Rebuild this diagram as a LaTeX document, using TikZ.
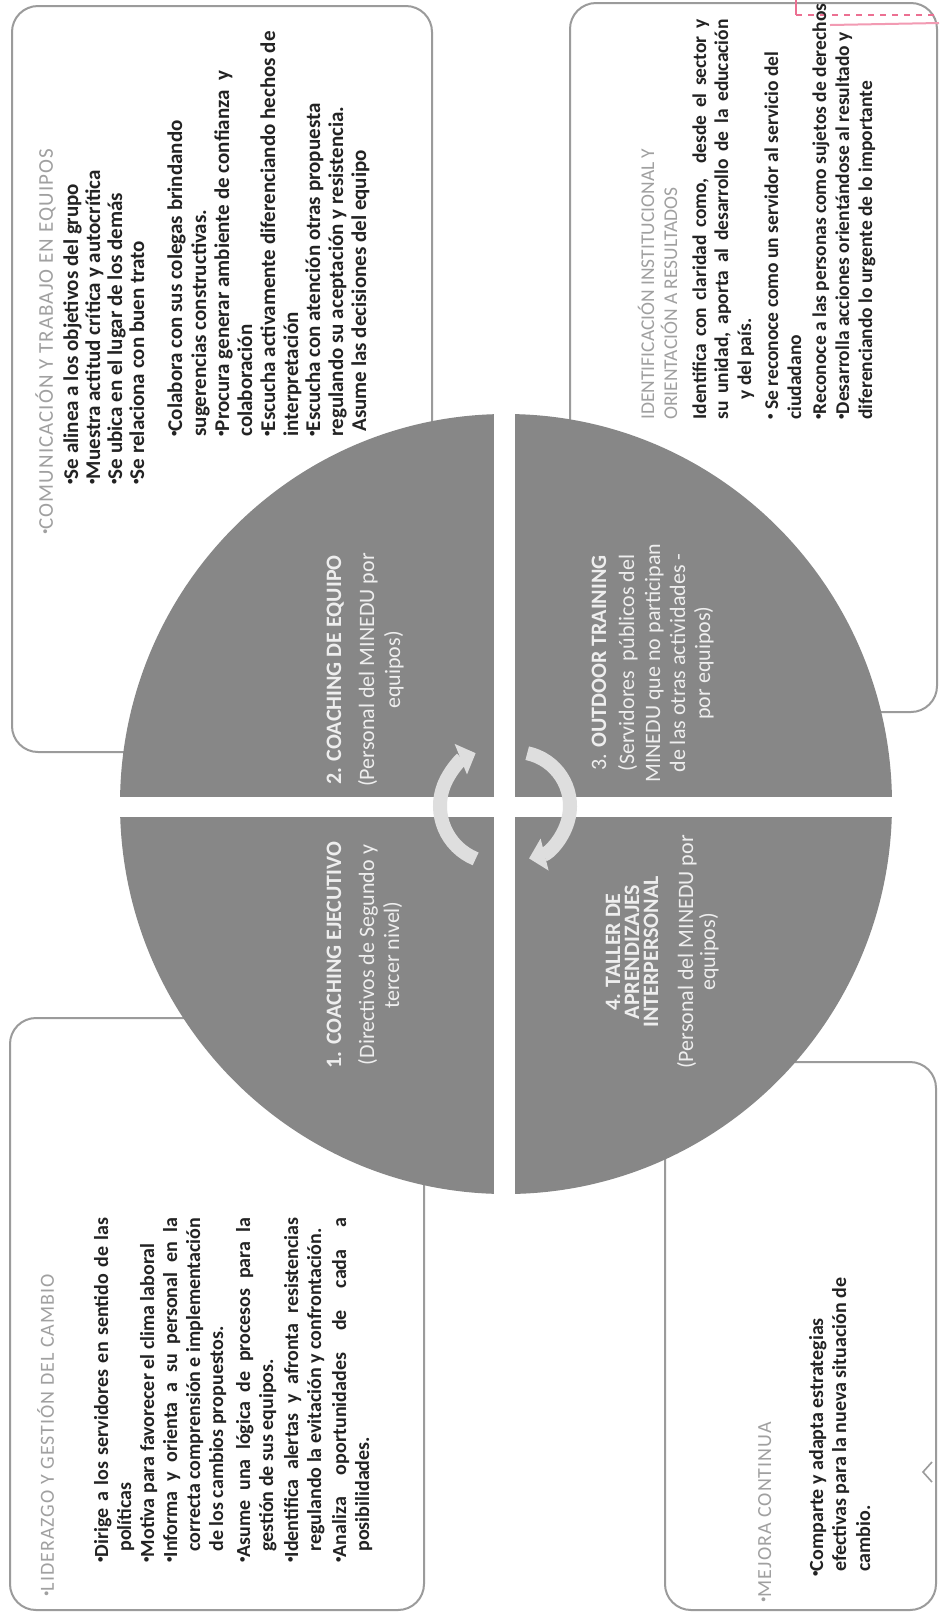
\documentclass[tikz,border=0pt]{standalone}
\usepackage{fontspec}
\setmainfont{Carlito}
\newfontfamily\hdfont[LetterSpace=5]{Carlito}
\newfontfamily\hdplain{Carlito}
\usetikzlibrary{arrows.meta}
\definecolor{boxline}{RGB}{155,155,155}
\definecolor{headgray}{RGB}{160,160,160}
\definecolor{bodytext}{RGB}{35,35,35}
\definecolor{disc}{RGB}{135,135,135}
\definecolor{disctext}{RGB}{238,238,238}
\definecolor{arrowfill}{RGB}{222,222,222}
\definecolor{pinkmark}{RGB}{236,112,146}
\newcommand\Ln[5]{\node[#1] (#2) at (#3,-#4) {#5};}
\newcommand\J[2]{\makebox[#1][s]{#2}}
\newcommand\bu{\raisebox{0.22em}{\fontsize{5.5}{6}\selectfont •}}
\begin{document}
\begin{tikzpicture}[x=0.5pt,y=0.5pt,
  frame/.style={draw=boxline,line width=1pt,rounded corners=13pt},
  txtbase/.style={rotate=90,anchor=base west,inner sep=0pt},
  tlh/.style={txtbase,text=headgray,font=\hdfont\fontsize{10.5}{12}\selectfont},
  tlt/.style={txtbase,text=bodytext,font=\bfseries\fontsize{10.5}{12}\selectfont},
  trh/.style={txtbase,text=headgray,font=\hdplain\fontsize{9.75}{12}\selectfont},
  trt/.style={txtbase,text=bodytext,font=\bfseries\fontsize{9.75}{12}\selectfont},
  blh/.style={txtbase,text=headgray,font=\hdfont\fontsize{10}{12}\selectfont},
  blt/.style={txtbase,text=bodytext,font=\bfseries\fontsize{10}{12}\selectfont},
  qr/.style={rotate=90,anchor=base,inner sep=0pt,text=disctext,font=\fontsize{11}{13}\selectfont},
  qb/.style={qr,font=\bfseries\fontsize{11}{13}\selectfont},
  cyc/.style={arrowfill,line width=7pt,-{Triangle[length=8pt,width=16pt]}}
]
\fill[white] (0,0) rectangle (939,-1614);
\useasboundingbox (0,0) rectangle (939,-1614);

% boxes
\draw[frame] (12,-6) rectangle (432,-752);
\draw[frame] (570,-3) rectangle (937,-712);
\draw[frame] (10,-1018) rectangle (424,-1610);
\draw[frame] (665,-1062) rectangle (936,-1610);
\draw[boxline,line width=0.8pt] (932,-1462) -- (923,-1472) -- (932,-1482);

% pink mark
\draw[pinkmark,line width=0.8pt] (796,0) -- (796,-15);
\draw[pinkmark,dashed,line width=0.8pt] (796,-15) -- (939,-15);
\draw[pinkmark!70,line width=1pt] (830,-25) -- (939,-23);

% disc
\fill[disc] (506,-804) ellipse[x radius=386,y radius=390];
\fill[white] (494,-405) rectangle (515,-1205);
\fill[white] (110,-797) rectangle (904,-817);

% cycle arrows
\draw[cyc] (497,-806) ++(248:57) arc[start angle=248,end angle=112,radius=57];
\draw[cyc] (516,-806) ++(78:54) arc[start angle=78,end angle=-76,radius=54];

% quadrant texts (x = baseline)
\Ln{qb}{q2a}{341}{670}{2. COACHING DE EQUIPO}
\Ln{qr}{q2b}{374}{670}{(Personal del MINEDU por}
\Ln{qr}{q2c}{400}{670}{equipos)}
\Ln{qb}{q1a}{341}{955}{1. COACHING EJECUTIVO}
\Ln{qr}{q1b}{374}{955}{(Directivos de Segundo y}
\Ln{qr}{q1c}{399}{955}{tercer nivel)}
\Ln{qr}{q3a}{606}{663}{3. \textbf{OUTDOOR TRAINING}}
\Ln{qr}{q3b}{634}{663}{(Servidores\ \ públicos del}
\Ln{qr}{q3c}{660}{663}{MINEDU que no participan}
\Ln{qr}{q3d}{685}{663}{de las otras actividades -}
\Ln{qr}{q3e}{710}{663}{por equipos)}
\Ln{qb}{q4a}{620}{952}{4. TALLER DE}
\Ln{qb}{q4b}{639}{952}{APRENDIZAJES}
\Ln{qb}{q4c}{658}{952}{INTERPERSONAL}
\Ln{qr}{q4d}{693}{952}{(Personal del MINEDU por}
\Ln{qr}{q4e}{715}{952}{equipos)}

% top-left box
\Ln{tlh}{tl0}{53}{535}{\bu COMUNICACIÓN Y TRABAJO EN EQUIPOS}
\Ln{tlt}{tl1}{78}{485}{\bu Se alinea a los objetivos del grupo}
\Ln{tlt}{tl2}{100}{485}{\bu Muestra actitud crítica y autocrítica}
\Ln{tlt}{tl3}{122}{485}{\bu Se ubica en el lugar de los demás}
\Ln{tlt}{tl4}{144}{485}{\bu Se relaciona con buen trato}
\Ln{tlt}{tl5}{182}{437}{\bu Colabora con sus colegas brindando}
\Ln{tlt}{tl6}{206}{437}{sugerencias constructivas.}
\Ln{tlt}{tl7}{229}{437}{\bu Procura generar ambiente de confianza\ \ y}
\Ln{tlt}{tl8}{252}{437}{colaboración}
\Ln{tlt}{tl9}{275}{437}{\bu Escucha activamente diferenciando hechos de}
\Ln{tlt}{tl10}{298}{437}{interpretación}
\Ln{tlt}{tl11}{320}{437}{\bu Escucha con atención otras propuesta}
\Ln{tlt}{tl12}{343}{437}{regulando su aceptación y resistencia.}
\Ln{tlt}{tl13}{366}{432}{Asume las decisiones del equipo}

% top-right box
\Ln{trh}{tr0}{654}{420}{IDENTIFICACIÓN INSTITUCIONAL Y}
\Ln{trh}{tr1}{677}{420}{ORIENTACIÓN A RESULTADOS}
\Ln{trt}{tr2}{706}{420}{\J{200pt}{Identifica con claridad como,\ \ desde el sector y}}
\Ln{trt}{tr3}{728}{420}{\J{200pt}{su unidad, aporta al desarrollo de la educación}}
\Ln{trt}{tr4}{751}{400}{y del país.}
\Ln{trt}{tr5}{778}{420}{\bu\ Se reconoce como un servidor al servicio del}
\Ln{trt}{tr6}{801}{420}{ciudadano}
\Ln{trt}{tr7}{826}{420}{\bu Reconoce a las personas como sujetos de derechos}
\Ln{trt}{tr8}{849}{420}{\bu Desarrolla acciones orientándose al resultado y}
\Ln{trt}{tr9}{872}{420}{diferenciando lo urgente de lo importante}

% bottom-left box
\Ln{blh}{bl0}{54}{1597}{\bu LIDERAZGO Y GESTIÓN DEL CAMBIO}
\Ln{blt}{bl1}{108}{1563}{\J{172.5pt}{\bu Dirige a los servidores en sentido de las}}
\Ln{blt}{bl2}{131}{1552}{políticas}
\Ln{blt}{bl3}{154}{1563}{\bu Motiva para favorecer el clima laboral}
\Ln{blt}{bl4}{177}{1563}{\J{172.5pt}{\bu Informa y orienta a su personal en la}}
\Ln{blt}{bl5}{200}{1552}{\J{167pt}{correcta comprensión e implementación}}
\Ln{blt}{bl6}{223}{1552}{de los cambios propuestos.}
\Ln{blt}{bl7}{250}{1563}{\J{172.5pt}{\bu Asume una lógica de procesos para la}}
\Ln{blt}{bl8}{273}{1552}{gestión de sus equipos.}
\Ln{blt}{bl9}{298}{1563}{\J{172.5pt}{\bu Identifica alertas y afronta resistencias}}
\Ln{blt}{bl10}{321}{1552}{regulando la evitación y confrontación.}
\Ln{blt}{bl11}{346}{1563}{\J{172.5pt}{\bu Analiza oportunidades de cada a}}
\Ln{blt}{bl12}{369}{1552}{posibilidades.}

% bottom-right box
\Ln{blh}{br0}{771}{1603}{\bu MEJORA CONTINUA}
\Ln{blt}{br1}{823}{1577}{\bu Comparte y adapta estrategias}
\Ln{blt}{br2}{846}{1572}{efectivas para la nueva situación de}
\Ln{blt}{br3}{870}{1572}{cambio.}
\end{tikzpicture}
\end{document}
